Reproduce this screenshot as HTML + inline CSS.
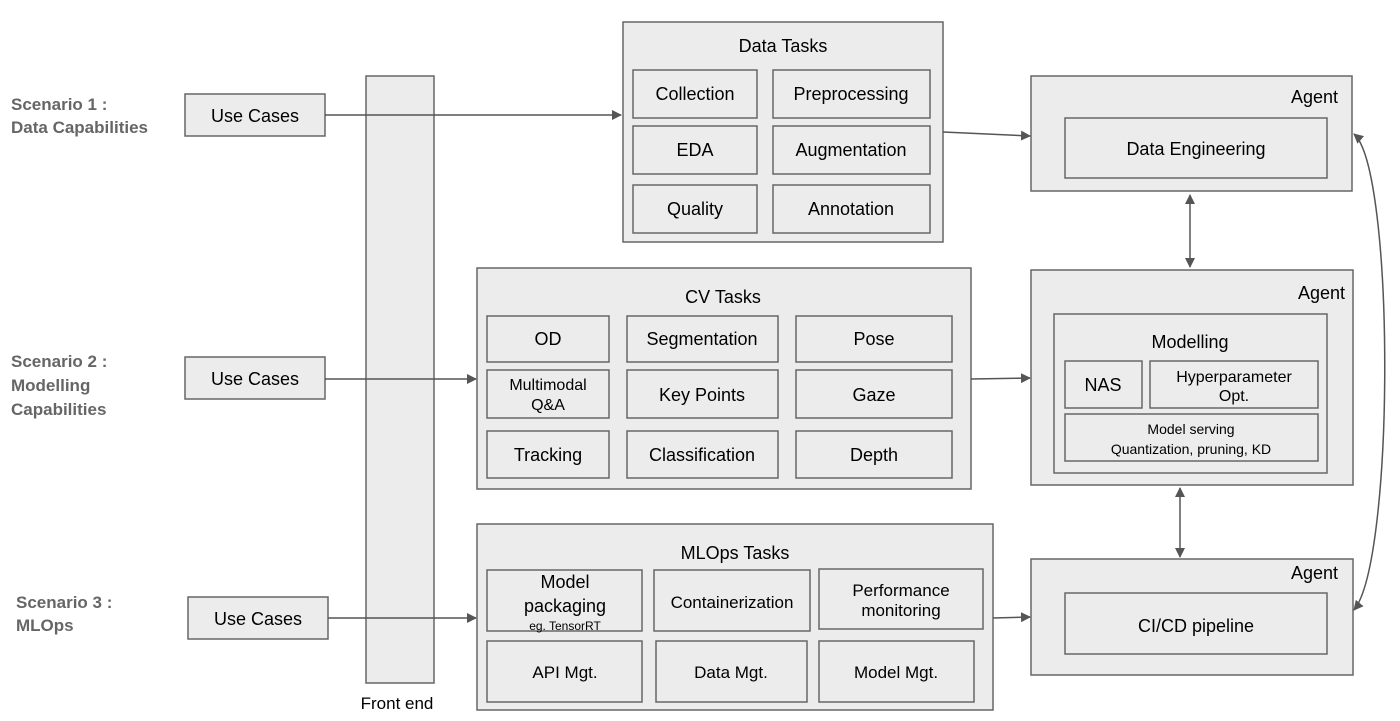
<!DOCTYPE html><html><head><style>body{margin:0;background:#fff}svg text{font-family:"Liberation Sans",Arial,sans-serif}</style></head><body>
<svg width="1400" height="716" viewBox="0 0 1400 716" xmlns="http://www.w3.org/2000/svg">
<defs><marker id="a" markerWidth="10" markerHeight="10" refX="9" refY="5" orient="auto-start-reverse" markerUnits="userSpaceOnUse"><path d="M0,0 L10,5 L0,10 z" fill="#555"/></marker></defs>
<g fill="#ececec" stroke="#666" stroke-width="1.5">
<rect x="185" y="94" width="140" height="42"/><rect x="185" y="357" width="140" height="42"/><rect x="188" y="597" width="140" height="42"/>
<rect x="366" y="76" width="68" height="607"/>
<rect x="623" y="22" width="320" height="220"/>
<rect x="633" y="70" width="124" height="48"/><rect x="773" y="70" width="157" height="48"/>
<rect x="633" y="126" width="124" height="48"/><rect x="773" y="126" width="157" height="48"/>
<rect x="633" y="185" width="124" height="48"/><rect x="773" y="185" width="157" height="48"/>
<rect x="477" y="268" width="494" height="221"/>
<rect x="487" y="316" width="122" height="46"/><rect x="627" y="316" width="151" height="46"/><rect x="796" y="316" width="156" height="46"/>
<rect x="487" y="370" width="122" height="48"/><rect x="627" y="370" width="151" height="48"/><rect x="796" y="370" width="156" height="48"/>
<rect x="487" y="431" width="122" height="47"/><rect x="627" y="431" width="151" height="47"/><rect x="796" y="431" width="156" height="47"/>
<rect x="477" y="524" width="516" height="186"/>
<rect x="487" y="570" width="155" height="61"/><rect x="654" y="570" width="156" height="61"/><rect x="819" y="569" width="164" height="60"/>
<rect x="487" y="641" width="155" height="61"/><rect x="656" y="641" width="151" height="61"/><rect x="819" y="641" width="155" height="61"/>
<rect x="1031" y="76" width="321" height="115"/><rect x="1065" y="118" width="262" height="60"/>
<rect x="1031" y="270" width="322" height="215"/><rect x="1054" y="314" width="273" height="159"/>
<rect x="1065" y="361" width="77" height="47"/><rect x="1150" y="361" width="168" height="47"/><rect x="1065" y="414" width="253" height="47"/>
<rect x="1031" y="559" width="322" height="116"/><rect x="1065" y="593" width="262" height="61"/>
</g>
<g stroke="#555" stroke-width="1.5" fill="none" marker-end="url(#a)">
<line x1="325" y1="115" x2="621" y2="115"/><line x1="943" y1="132" x2="1030" y2="136"/>
<line x1="325" y1="379" x2="476" y2="379"/><line x1="971" y1="379" x2="1030" y2="378"/>
<line x1="328" y1="618" x2="476" y2="618"/><line x1="993" y1="618" x2="1030" y2="617"/>
<line x1="1190" y1="195" x2="1190" y2="267" marker-start="url(#a)"/>
<line x1="1180" y1="488" x2="1180" y2="557" marker-start="url(#a)"/>
<path d="M1354,134 C1395,170 1395,560 1354,610" marker-start="url(#a)"/>
</g>
<g font-size="17" font-weight="bold" fill="#666">
<text x="11" y="110">Scenario 1 :</text><text x="11" y="133">Data Capabilities</text>
<text x="11" y="367">Scenario 2 :</text><text x="11" y="391">Modelling</text><text x="11" y="415">Capabilities</text>
<text x="16" y="608">Scenario 3 :</text><text x="16" y="631">MLOps</text>
</g>
<g font-size="18" text-anchor="middle" fill="#000">
<text x="255" y="122">Use Cases</text><text x="255" y="385">Use Cases</text><text x="258" y="625">Use Cases</text>
<text x="397" y="709" font-size="17">Front end</text>
<text x="783" y="52">Data Tasks</text>
<text x="695" y="100">Collection</text><text x="851" y="100">Preprocessing</text>
<text x="695" y="156">EDA</text><text x="851" y="156">Augmentation</text>
<text x="695" y="215">Quality</text><text x="851" y="215">Annotation</text>
<text x="723" y="303">CV Tasks</text>
<text x="548" y="345">OD</text><text x="702" y="345">Segmentation</text><text x="874" y="345">Pose</text>
<text x="548" y="390" font-size="16">Multimodal</text><text x="548" y="410" font-size="16">Q&amp;A</text>
<text x="702" y="401">Key Points</text><text x="874" y="401">Gaze</text>
<text x="548" y="461">Tracking</text><text x="702" y="461">Classification</text><text x="874" y="461">Depth</text>
<text x="735" y="559">MLOps Tasks</text>
<text x="565" y="588">Model</text><text x="565" y="612">packaging</text><text x="565" y="630" font-size="12">eg. TensorRT</text>
<text x="732" y="608" font-size="17">Containerization</text>
<text x="901" y="596" font-size="17">Performance</text><text x="901" y="616" font-size="17">monitoring</text>
<text x="565" y="678" font-size="17">API Mgt.</text><text x="731" y="678" font-size="17">Data Mgt.</text><text x="896" y="678" font-size="17">Model Mgt.</text>
<text x="1196" y="155">Data Engineering</text>
<text x="1190" y="348">Modelling</text><text x="1103" y="391">NAS</text>
<text x="1234" y="382" font-size="16">Hyperparameter</text><text x="1234" y="401" font-size="16">Opt.</text>
<text x="1191" y="434" font-size="14">Model serving</text><text x="1191" y="454" font-size="14">Quantization, pruning, KD</text>
<text x="1196" y="632">CI/CD pipeline</text>
</g>
<g font-size="18" text-anchor="end" fill="#000">
<text x="1338" y="103">Agent</text><text x="1345" y="299">Agent</text><text x="1338" y="579">Agent</text>
</g>
</svg></body></html>
